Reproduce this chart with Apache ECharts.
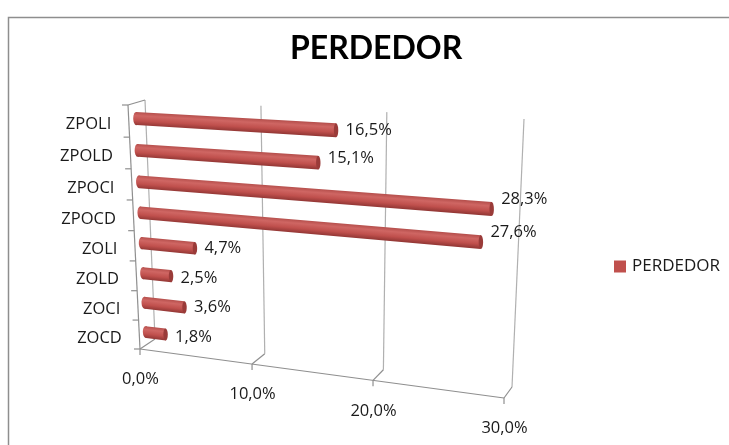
<!DOCTYPE html>
<html><head><meta charset="utf-8">
<style>html,body{margin:0;padding:0;background:#fff}#c{width:729px;height:445px}</style>
<script src="https://cdn.jsdelivr.net/npm/echarts@6/dist/echarts.min.js"></script>
</head><body><div id="c"></div>
<script>
const chartTitle = 'PERDEDOR';
const seriesName = 'PERDEDOR';
const categories = ['ZPOLI','ZPOLD','ZPOCI','ZPOCD','ZOLI','ZOLD','ZOCI','ZOCD'];
const values = [16.5,15.1,28.3,27.6,4.7,2.5,3.6,1.8];
const xTicks = [0,10,20,30];
const labelNudgeY = [0,-4,-10,-10,0,2,0,3];
const FONT = '"Open Sans","Noto Sans",sans-serif';

function quad(q){
  const [x0,y0]=q[0],[x1,y1]=q[1],[x2,y2]=q[2],[x3,y3]=q[3];
  const dx1=x1-x2,dx2=x3-x2,sx=x0-x1+x2-x3,dy1=y1-y2,dy2=y3-y2,sy=y0-y1+y2-y3;
  const den=dx1*dy2-dx2*dy1;
  const g=(sx*dy2-dx2*sy)/den,h=(dx1*sy-sx*dy1)/den;
  const a=x1-x0+g*x1,b=x3-x0+h*x3,d=y1-y0+g*y1,e=y3-y0+h*y3;
  return (s,t)=>{const w=g*s+h*t+1;return [(a*s+b*t+x0)/w,(d*s+e*t+y0)/w];};
}
// perspective planes: corners TL, TR, BR, BL
const front = quad([[128,105],[516,125],[504,398],[140,349]]);
const back  = quad([[145,100],[524,119],[512,387],[155,339]]);
const mid   = quad([[135.5,102.5],[519,123],[507.5,392],[146.5,346.5]]);

function norm(params,api,v,i){
  const c=params.coordSys, p=api.coord([v,i]);
  return [(p[0]-c.x)/c.width,(p[1]-c.y)/c.height,api.size([0,1])[1]/c.height];
}
const line=(a,b,color)=>({type:'line',shape:{x1:a[0],y1:a[1],x2:b[0],y2:b[1]},style:{stroke:color,lineWidth:1.2},silent:true});
const txt=(t,x,y,align)=>({type:'text',silent:true,style:{text:t,x,y,align,textAlign:align,verticalAlign:'middle',textVerticalAlign:'middle',fill:'#1a1a1a',fontSize:16.5,fontFamily:FONT}});
const GRID='#b0b0b0', AXIS='#8f8f8f';

function renderXTick(params,api){
  const v=api.value(0), [s]=norm(params,api,v,0);
  const f=front(s,1), b=back(s,1), bt=back(s,0);
  const kids=[line(b,bt,GRID),line(f,b,AXIS),line(f,[f[0],f[1]+6],AXIS),
    txt(String(v.toFixed(1)).replace('.',',')+'%',f[0]+0.5,f[1]+30.5,'center')];
  if(v===0) kids.push(line(front(0,0),bt,AXIS),line(front(0,0),f,AXIS),line(f,front(1,1),AXIS));
  return {type:'group',children:kids};
}
function renderYTick(params,api){
  const i=params.dataIndex, [,t,bh]=norm(params,api,0,i);
  const e=front(0,t+bh/2), m=front(0,t);
  const kids=[line(e,[e[0]-6,e[1]],AXIS),txt(categories[i],m[0]-17.5,m[1]+3.5,'right')];
  if(i===0){const e0=front(0,t-bh/2);kids.push(line(e0,[e0[0]-6,e0[1]],AXIS));}
  return {type:'group',children:kids};
}
function ellipse(c,rx,ry,slope){
  const pts=[];
  for(let k=0;k<28;k++){const a=k/28*Math.PI*2,x=rx*Math.cos(a),y=ry*Math.sin(a);
    pts.push([c[0]+x,c[1]+y+x*slope]);}
  return pts;
}
function barFill(c,slope,H){
  const n=Math.hypot(slope,1),dx=-slope/n*H,dy=1/n*H;
  return {type:'linear',global:true,x:c[0]-dx,y:c[1]-dy,x2:c[0]+dx,y2:c[1]+dy,colorStops:[
    {offset:0,color:'#b54f4c'},{offset:.28,color:'#cf6663'},{offset:.65,color:'#c0504d'},{offset:1,color:'#933735'}]};
}
function renderBar(params,api){
  const i=params.dataIndex,v=api.value(0);
  const [s,t]=norm(params,api,v,i),[s0]=norm(params,api,0,i);
  const h=0.0255;
  const a1=mid(s0,t-h),a2=mid(s0,t+h),b1=mid(s,t-h),b2=mid(s,t+h);
  const am=mid(s0,t),bm=mid(s,t);
  const slope=(bm[1]-am[1])/(bm[0]-am[0]);
  const cm=[(am[0]+bm[0])/2,(am[1]+bm[1])/2];
  const rA=(a2[1]-a1[1])/2, rB=(b2[1]-b1[1])/2;
  const fill=barFill(cm,slope,(rA+rB)/2);
  return {type:'group',children:[
    {type:'polygon',shape:{points:ellipse(am,3,rA,slope)},style:{fill:barFill(am,slope,rA)}},
    {type:'polygon',shape:{points:[a1,b1,b2,a2]},style:{fill}},
    {type:'polygon',shape:{points:ellipse(bm,2.2,rB,slope)},style:{fill:'#9a3b39'}},
    txt(String(v.toFixed(1)).replace('.',',')+'%',bm[0]+9.5,bm[1]+labelNudgeY[i],'left')
  ]};
}
const chart=echarts.init(document.getElementById('c'));
chart.setOption({
  animation:false,backgroundColor:'#fff',
  title:{text:chartTitle,left:290,top:33,itemGap:0,padding:0,textStyle:{fontFamily:'Lato,"Open Sans",sans-serif',fontWeight:'bold',fontSize:32,color:'#000'}},
  legend:{left:614,top:258,padding:0,itemWidth:12,itemHeight:12,itemGap:6,icon:'rect',data:[seriesName],
    textStyle:{fontFamily:FONT,fontSize:17,color:'#1a1a1a',padding:[1,0,0,1]}},
  graphic:[{type:'polyline',silent:true,shape:{points:[[8.5,445],[8.5,17.5],[729,17.5]]},style:{stroke:'#8e8e8e',lineWidth:1.5,fill:'none'}}],
  grid:{left:100,top:100,width:400,height:240},
  xAxis:{type:'value',min:0,max:30,interval:10,show:false},
  yAxis:{type:'category',data:categories,inverse:true,show:false},
  series:[
    {type:'custom',name:'xTicks',coordinateSystem:'cartesian2d',encode:{x:0},z:1,silent:true,data:xTicks.map(v=>[v]),renderItem:renderXTick},
    {type:'custom',name:'yTicks',coordinateSystem:'cartesian2d',encode:{y:0},z:1,silent:true,data:categories.map((c,i)=>[i]),renderItem:renderYTick},
    {type:'custom',name:seriesName,coordinateSystem:'cartesian2d',encode:{x:0,y:1},z:3,itemStyle:{color:'#c0504d'},data:values.map((v,i)=>[v,i]),renderItem:renderBar}
  ]
});
</script></body></html>
